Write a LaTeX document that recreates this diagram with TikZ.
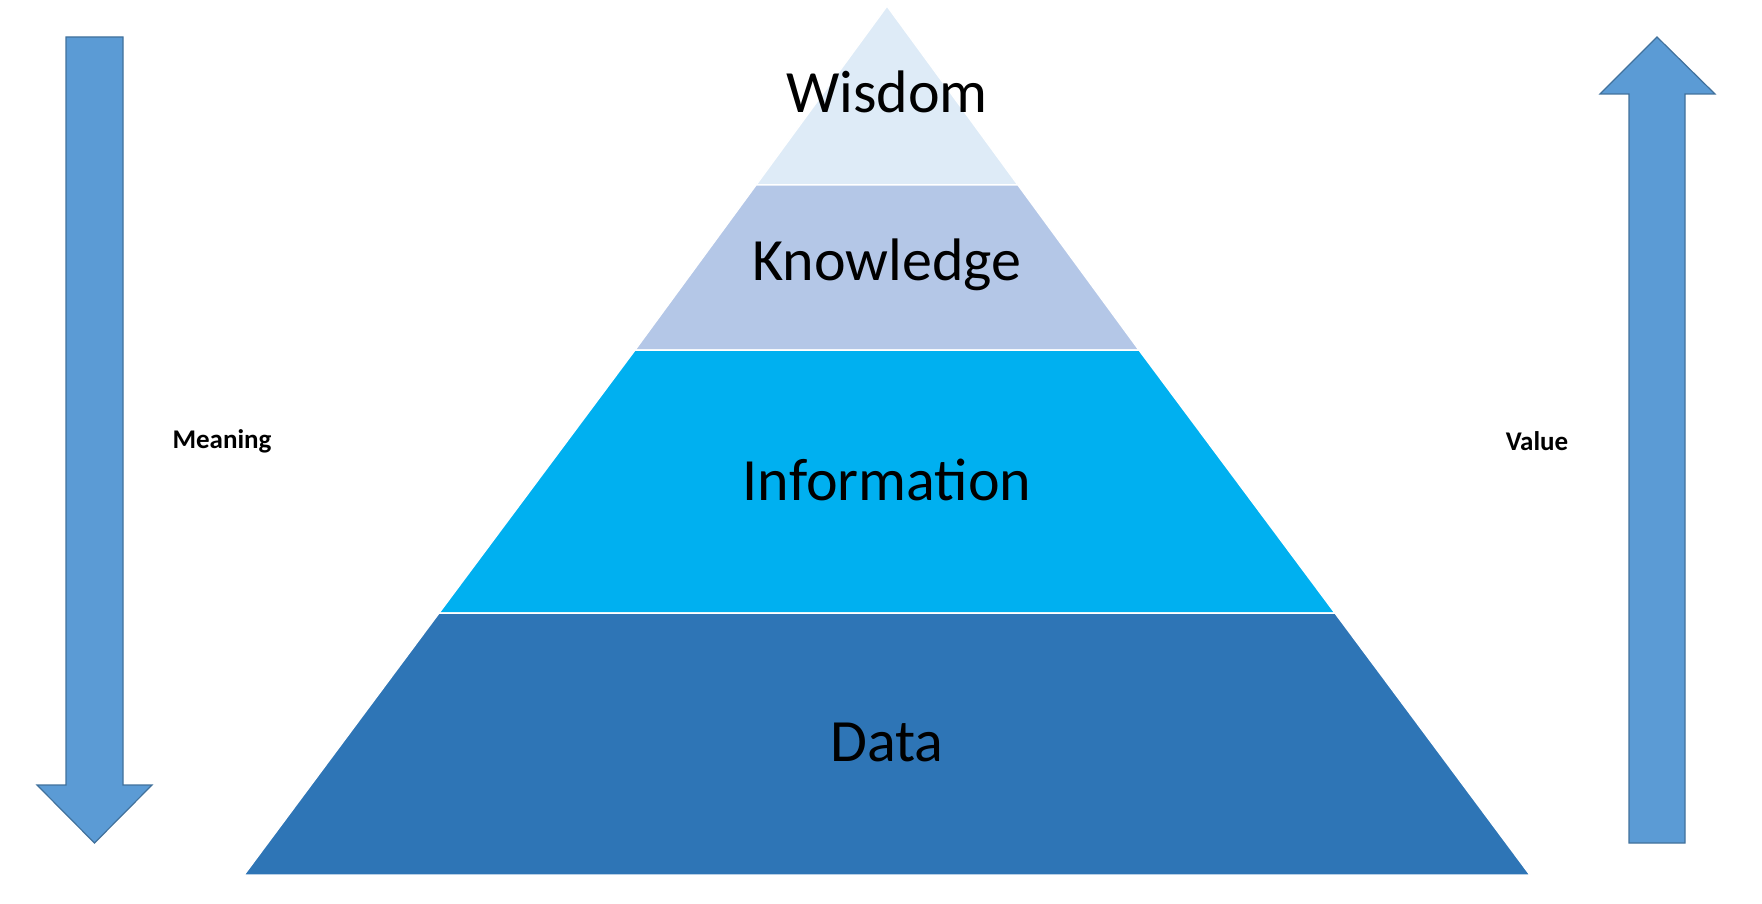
\documentclass[tikz,border=0pt]{standalone}
\usepackage{fontspec}
\setmainfont{Carlito}
\definecolor{cW}{HTML}{DEEBF7}
\definecolor{cK}{HTML}{B4C7E7}
\definecolor{cI}{HTML}{00B0F0}
\definecolor{cD}{HTML}{2E75B6}
\definecolor{cA}{HTML}{5B9BD5}
\definecolor{cAb}{HTML}{41719C}
\begin{document}
\begin{tikzpicture}[x=1pt,y=-1pt,
  layer/.style={draw=white,line width=1.5pt},
  big/.style={font=\fontsize{60}{72}\selectfont},
  side/.style={font=\bfseries\fontsize{27}{32}\selectfont},
  arr/.style={fill=cA,draw=cAb,line width=1.2pt}]
\useasboundingbox (0,0) rectangle (1762,904);
% pyramid layers: apex (887,6), base 244..1530 at y 875
\coordinate (A) at (887,6);
\fill[cW,layer] (887,6) -- (1018,185) -- (756,185) -- cycle;
\fill[cK,layer] (756,185) -- (1018,185) -- (1139,350) -- (635,350) -- cycle;
\fill[cI,layer] (635,350) -- (1139,350) -- (1335,613) -- (439,613) -- cycle;
\fill[cD,layer] (439,613) -- (1335,613) -- (1530,875) -- (244,875) -- cycle;
\node[big] (w) at (887,92) {Wisdom};
\node[big] (k) at (887,265) {Knowledge};
\node[big] (i) at (887,480) {Information};
\node[big] (d) at (887,742) {Data};
% arrows
\draw[arr] (66,37) -- (123,37) -- (123,785) -- (152,785) -- (94.5,843) -- (37,785) -- (66,785) -- cycle;
\draw[arr] (1629,843) -- (1685,843) -- (1685,94) -- (1715,94) -- (1657,37) -- (1600,94) -- (1629,94) -- cycle;
\node[side] (m) at (222,441) {Meaning};
\node[side] (v) at (1537,441) {Value};
\end{tikzpicture}
\end{document}
